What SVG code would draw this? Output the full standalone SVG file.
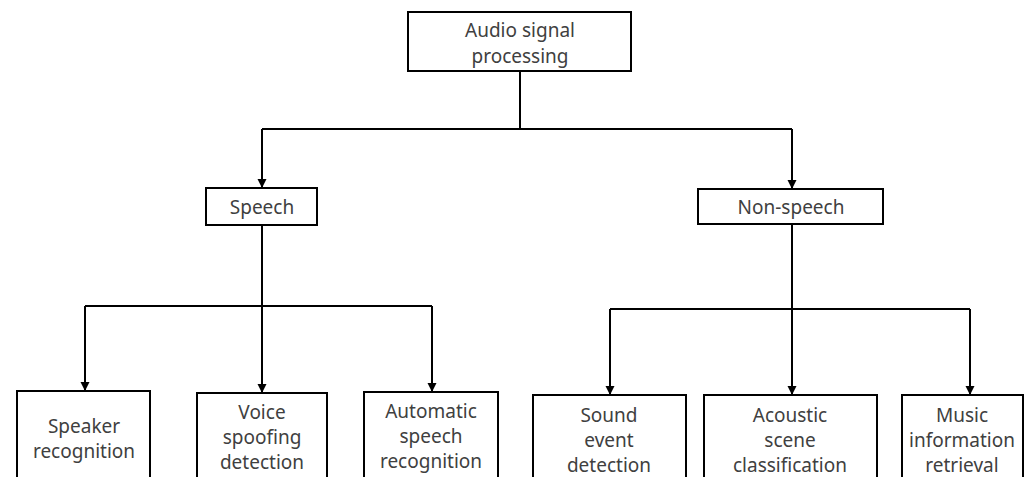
<svg xmlns="http://www.w3.org/2000/svg" width="1030" height="477" viewBox="0 0 1030 477">
<style>
.box{fill:#fff;stroke:#000;stroke-width:2}
.t{font-family:"Noto Sans","Liberation Sans",sans-serif;font-size:19px;fill:#404040;text-anchor:middle}
.c{fill:none;stroke:#000;stroke-width:2}
</style>
<defs>
<marker id="ah" markerWidth="10" markerHeight="10" refX="9" refY="5" orient="auto" markerUnits="userSpaceOnUse">
<path d="M0,0.5 L9,5 L0,9.5 Z" fill="#000"/>
</marker>
</defs>
<rect width="1030" height="477" fill="#fff"/>
<g id="connectors">
<path class="c" d="M520,71 V129"/>
<path class="c" d="M262,129 H792"/>
<path class="c" d="M262,129 V188" marker-end="url(#ah)"/>
<path class="c" d="M792,129 V189" marker-end="url(#ah)"/>
<path class="c" d="M262,225 V306"/>
<path class="c" d="M85,306 H432"/>
<path class="c" d="M85,306 V391" marker-end="url(#ah)"/>
<path class="c" d="M262,306 V393" marker-end="url(#ah)"/>
<path class="c" d="M432,306 V392" marker-end="url(#ah)"/>
<path class="c" d="M792,224 V309"/>
<path class="c" d="M610,309 H970"/>
<path class="c" d="M610,309 V395" marker-end="url(#ah)"/>
<path class="c" d="M792,309 V395" marker-end="url(#ah)"/>
<path class="c" d="M970,309 V395" marker-end="url(#ah)"/>
</g>
<g id="root">
<rect class="box" x="408" y="12" width="223" height="59"/>
<text class="t" x="520" y="37">Audio signal</text>
<text class="t" x="520" y="63">processing</text>
</g>
<g id="speech">
<rect class="box" x="206" y="188" width="111" height="37"/>
<text class="t" x="262" y="214">Speech</text>
</g>
<g id="nonspeech">
<rect class="box" x="698" y="189" width="185" height="35"/>
<text class="t" x="791" y="214">Non-speech</text>
</g>
<g id="speaker">
<rect class="box" x="17" y="391" width="133" height="100"/>
<text class="t" x="84" y="433">Speaker</text>
<text class="t" x="84" y="458">recognition</text>
</g>
<g id="voice">
<rect class="box" x="197" y="393" width="130" height="100"/>
<text class="t" x="262" y="419">Voice</text>
<text class="t" x="262" y="444">spoofing</text>
<text class="t" x="262" y="469">detection</text>
</g>
<g id="asr">
<rect class="box" x="364" y="392" width="134" height="100"/>
<text class="t" x="431" y="418">Automatic</text>
<text class="t" x="431" y="443">speech</text>
<text class="t" x="431" y="468">recognition</text>
</g>
<g id="sed">
<rect class="box" x="533" y="395" width="153" height="100"/>
<text class="t" x="609" y="422">Sound</text>
<text class="t" x="609" y="447">event</text>
<text class="t" x="609" y="472">detection</text>
</g>
<g id="asc">
<rect class="box" x="704" y="395" width="173" height="100"/>
<text class="t" x="790" y="422">Acoustic</text>
<text class="t" x="790" y="447">scene</text>
<text class="t" x="790" y="472">classification</text>
</g>
<g id="mir">
<rect class="box" x="902" y="395" width="121" height="100"/>
<text class="t" x="962" y="422">Music</text>
<text class="t" x="962" y="447">information</text>
<text class="t" x="962" y="472">retrieval</text>
</g>
</svg>
